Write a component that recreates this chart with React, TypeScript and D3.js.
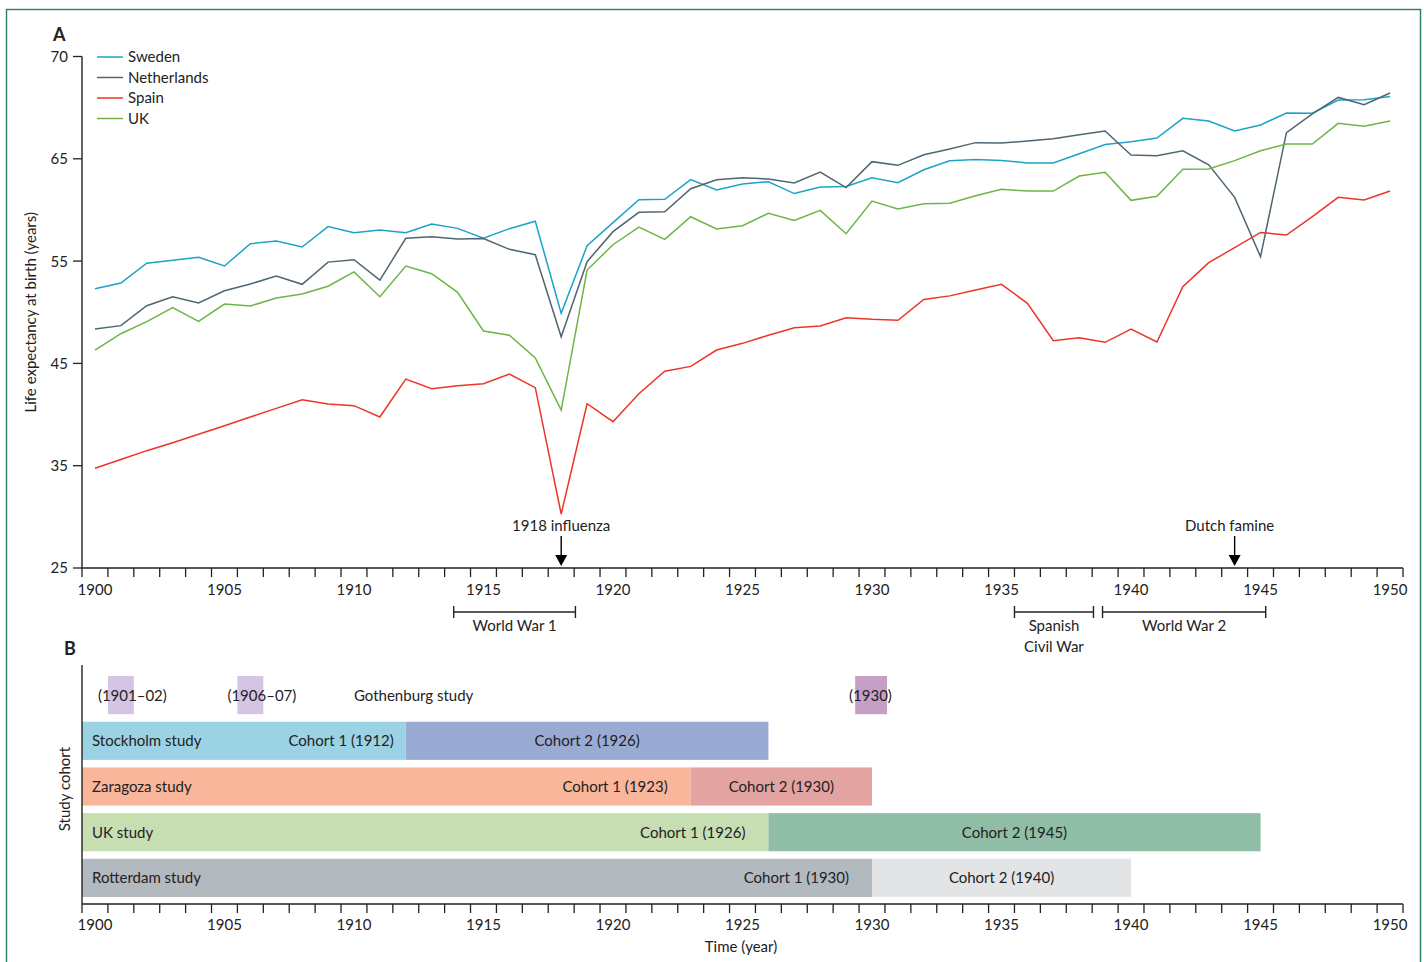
import React from 'react';
import * as d3 from 'd3';

// ---- data ----
const YEARS = d3.range(1900, 1951);

const SWEDEN = [52.3, 52.86, 54.8, 55.08, 55.37, 54.52, 56.7, 56.96, 56.38, 58.37,
  57.78, 58.04, 57.78, 58.63, 58.2, 57.23, 58.17, 58.9, 49.9, 56.5,
  58.76, 61.0, 61.04, 62.96, 61.95, 62.54, 62.76, 61.6, 62.24, 62.3,
  63.15, 62.66, 63.93, 64.8, 64.93, 64.83, 64.6, 64.6, 65.5, 66.4,
  66.67, 67.03, 68.96, 68.7, 67.72, 68.3, 69.48, 69.45, 70.75, 70.78,
  71.1];
const NETHERLANDS = [48.36, 48.69, 50.64, 51.52, 50.9, 52.1, 52.76, 53.54, 52.73, 54.9,
  55.14, 53.15, 57.23, 57.39, 57.16, 57.2, 56.15, 55.63, 47.6, 54.94,
  57.88, 59.77, 59.83, 62.08, 62.96, 63.15, 63.02, 62.63, 63.7, 62.18,
  64.72, 64.36, 65.4, 65.96, 66.58, 66.54, 66.74, 66.96, 67.36, 67.72,
  65.37, 65.3, 65.79, 64.42, 61.23, 55.43, 67.56, 69.38, 71.0, 70.29,
  71.43];
const SPAIN = [34.75, 35.6, 36.47, 37.25, 38.07, 38.91, 39.76, 40.6, 41.45, 41.03,
  40.87, 39.76, 43.47, 42.53, 42.82, 43.02, 43.96, 42.63, 30.28, 41.06,
  39.3, 42.04, 44.23, 44.71, 46.31, 46.96, 47.75, 48.49, 48.66, 49.47,
  49.31, 49.21, 51.25, 51.6, 52.17, 52.73, 50.87, 47.22, 47.51, 47.06,
  48.36, 47.09, 52.5, 54.85, 56.31, 57.8, 57.55, 59.34, 61.23, 60.97,
  61.85];
const UK = [46.3, 47.9, 49.08, 50.45, 49.1, 50.8, 50.61, 51.4, 51.78, 52.54,
  53.94, 51.52, 54.52, 53.77, 51.95, 48.17, 47.75, 45.53, 40.44, 54.13,
  56.6, 58.33, 57.13, 59.34, 58.14, 58.46, 59.67, 58.98, 59.96, 57.68,
  60.87, 60.09, 60.61, 60.65, 61.39, 62.02, 61.85, 61.85, 63.32, 63.68,
  60.94, 61.33, 63.97, 64.0, 64.82, 65.79, 66.45, 66.45, 68.47, 68.18,
  68.7];

const SERIES_NAMES = ['Sweden', 'Netherlands', 'Spain', 'UK'];
const SERIES_VALUES = [SWEDEN, NETHERLANDS, SPAIN, UK];
const SERIES_COLORS = ['#1ba3c9', '#4f6571', '#ee3426', '#6db545'];

const Y_TICKS = [25, 35, 45, 55, 65, 75];
const Y_TICK_LABELS = ['25', '35', '45', '55', '65', '70'];
const X_LABEL_YEARS = d3.range(1900, 1951, 5);

const EVENTS = ['1918 influenza', 'Dutch famine'];
const EVENT_YEARS = [1918, 1944];
const EVENT_LABEL_SHIFT = [0, -5];

const PERIODS = [['World War 1'], ['Spanish', 'Civil War'], ['World War 2']];
const PERIOD_START = [1914.35, 1936.0, 1939.4];
const PERIOD_END = [1919.05, 1939.05, 1945.7];

const STUDIES = ['Stockholm study', 'Zaragoza study', 'UK study', 'Rotterdam study'];
const COHORT1_YEAR = [1912, 1923, 1926, 1930];
const COHORT2_YEAR = [1926, 1930, 1945, 1940];
const COHORT1_COLORS = ['#9bd3e4', '#f9b69a', '#c6deb1', '#b2b9bf'];
const COHORT2_COLORS = ['#9aabd3', '#e3a3a1', '#90bda5', '#e3e4e6'];

const GOTH_LABELS = ['(1901–02)', '(1906–07)', '(1930)'];
const GOTH_LABEL_YEAR = [1901, 1906, 1930];
const GOTH_START = [1901, 1906, 1929.85];
const GOTH_END = [1902, 1907, 1931.08];
const GOTH_COLORS = ['#d3c5e3', '#d3c5e3', '#c59fc6'];

const FONT = 'Lato, "Open Sans", sans-serif';
const INK = '#222';
const DY = '0.36em';

const W = 1424;
const H = 962;

const App: React.FC = () => {
  // year boundaries on the axis; a year's point sits in the middle of its slot
  const xb = d3.scaleLinear().domain([1900, 1951]).range([82, 1403]);
  const xp = (yr: number) => xb(yr + 0.5);
  const y = d3.scaleLinear().domain([25, 75]).range([568, 56.5]);

  const line = d3.line<number>()
    .x((_, i) => xp(YEARS[i]))
    .y(d => y(d));

  const rows = d3.scaleBand<string>()
    .domain(['Gothenburg', ...STUDIES])
    .range([668, 905])
    .paddingInner(0.165)
    .paddingOuter(0.176);

  const tickYears = d3.range(1900, 1952);

  const xAxis = (y0: number, labelY: number) => (
    <g>
      <line x1={xb(1900)} x2={xb(1951)} y1={y0} y2={y0} stroke={INK} strokeWidth={1.4} />
      {tickYears.map(t => (
        <line key={t} x1={xb(t)} x2={xb(t)} y1={y0} y2={y0 + 9} stroke={INK} strokeWidth={1.3} />
      ))}
      {X_LABEL_YEARS.map(t => (
        <text key={t} x={xp(t)} y={labelY} textAnchor="middle" dy={DY}
          fontSize={15} fill={INK}>{t}</text>
      ))}
    </g>
  );

  const gothMid = rows('Gothenburg')! + rows.bandwidth() / 2;

  return (
    <div style={{ position: 'absolute', left: 0, top: 0 }}>
      <svg width={W} height={H} style={{ display: 'block', fontFamily: FONT, background: '#fff' }}>
        <rect x={6.5} y={9.5} width={1414} height={1000} fill="none" stroke="#2a7f57" strokeWidth={1.4} />

        {/* ---------- Panel A ---------- */}
        <text x={53} y={41} fontSize={18} fontWeight="bold" fill={INK}>A</text>

        <line x1={82} x2={82} y1={y(75)} y2={y(25)} stroke={INK} strokeWidth={1.4} />
        {Y_TICKS.map((t, i) => (
          <g key={t}>
            <line x1={73} x2={82} y1={y(t)} y2={y(t)} stroke={INK} strokeWidth={1.3} />
            <text x={68} y={y(t)} textAnchor="end" dy={DY} fontSize={15} fill={INK}>
              {Y_TICK_LABELS[i]}
            </text>
          </g>
        ))}
        <text transform={`translate(31, ${y(50)}) rotate(-90)`} textAnchor="middle"
          dy={DY} fontSize={15} fill={INK}>
          Life expectancy at birth (years)
        </text>

        {xAxis(568, 590)}

        {SERIES_VALUES.map((vals, i) => (
          <path key={SERIES_NAMES[i]} d={line(vals) || undefined} fill="none"
            stroke={SERIES_COLORS[i]} strokeWidth={1.5} strokeLinejoin="miter" />
        ))}

        {/* legend */}
        {SERIES_NAMES.map((name, i) => (
          <g key={name} transform={`translate(97, ${57 + i * 20.5})`}>
            <line x1={0} x2={26} y1={0} y2={0} stroke={SERIES_COLORS[i]} strokeWidth={1.5} />
            <text x={31} y={0} dy={DY} fontSize={15} fill={INK}>{name}</text>
          </g>
        ))}

        {/* event arrows */}
        {EVENTS.map((ev, i) => {
          const ex = xp(EVENT_YEARS[i]);
          return (
            <g key={ev}>
              <text x={ex + EVENT_LABEL_SHIFT[i]} y={526} textAnchor="middle" dy={DY} fontSize={15} fill={INK}>{ev}</text>
              <line x1={ex} x2={ex} y1={536} y2={556} stroke="#000" strokeWidth={1.4} />
              <path d={`M${ex - 6},${555} L${ex + 6},${555} L${ex},${566} Z`} fill="#000" />
            </g>
          );
        })}

        {/* period ranges */}
        {PERIODS.map((lines, i) => {
          const x0 = xb(PERIOD_START[i]);
          const x1 = xb(PERIOD_END[i]);
          return (
            <g key={lines.join(' ')}>
              <line x1={x0} x2={x1} y1={612} y2={612} stroke={INK} strokeWidth={1.4} />
              <line x1={x0} x2={x0} y1={606} y2={618} stroke={INK} strokeWidth={1.4} />
              <line x1={x1} x2={x1} y1={606} y2={618} stroke={INK} strokeWidth={1.4} />
              {lines.map((l, j) => (
                <text key={l} x={(x0 + x1) / 2} y={626 + j * 20.5} textAnchor="middle"
                  dy={DY} fontSize={15} fill={INK}>{l}</text>
              ))}
            </g>
          );
        })}

        {/* ---------- Panel B ---------- */}
        <text x={64} y={655} fontSize={18} fontWeight="bold" fill={INK}>B</text>
        <text transform={`translate(65, 789) rotate(-90)`} textAnchor="middle"
          dy={DY} fontSize={15} fill={INK}>Study cohort</text>

        {/* Gothenburg row */}
        {GOTH_LABELS.map((lab, i) => (
          <g key={lab}>
            <rect x={xb(GOTH_START[i])} width={xb(GOTH_END[i]) - xb(GOTH_START[i])}
              y={rows('Gothenburg')!} height={rows.bandwidth()} fill={GOTH_COLORS[i]} />
            <text x={xb(GOTH_LABEL_YEAR[i]) - 10} y={gothMid}
              dy={DY} fontSize={15} fill={INK}>{lab}</text>
          </g>
        ))}
        <text x={xb(1910.5)} y={gothMid} dy={DY} fontSize={15} fill={INK}>Gothenburg study</text>

        {STUDIES.map((s, i) => {
          const top = rows(s)!;
          const mid = top + rows.bandwidth() / 2;
          const e1 = xp(COHORT1_YEAR[i]);
          const e2 = xp(COHORT2_YEAR[i]);
          return (
            <g key={s}>
              <rect x={xb(1900)} y={top} width={e1 - xb(1900)} height={rows.bandwidth()} fill={COHORT1_COLORS[i]} />
              <rect x={e1} y={top} width={e2 - e1} height={rows.bandwidth()} fill={COHORT2_COLORS[i]} />
              <text x={92} y={mid} dy={DY} fontSize={15} fill={INK}>{s}</text>
              <text x={e1 - (i === 0 ? 12 : 23)} y={mid} textAnchor="end" dy={DY}
                fontSize={15} fill={INK}>{`Cohort 1 (${COHORT1_YEAR[i]})`}</text>
              <text x={(e1 + e2) / 2} y={mid} textAnchor="middle" dy={DY}
                fontSize={15} fill={INK}>{`Cohort 2 (${COHORT2_YEAR[i]})`}</text>
            </g>
          );
        })}

        <line x1={82} x2={82} y1={665} y2={904} stroke={INK} strokeWidth={1.4} />
        {xAxis(904, 925)}
        <text x={741} y={947} textAnchor="middle" dy={DY} fontSize={15} fill={INK}>Time (year)</text>
      </svg>
    </div>
  );
};

export default App;
